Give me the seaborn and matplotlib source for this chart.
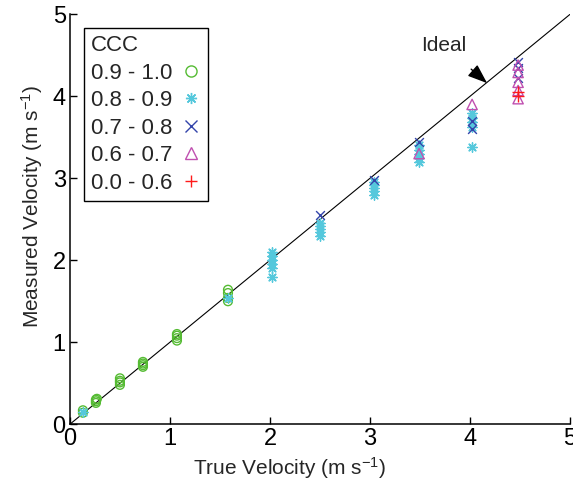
import matplotlib
matplotlib.use("Agg")
import matplotlib.pyplot as plt
from matplotlib.lines import Line2D
import seaborn as sns
import pandas as pd

# ---- data ----
groups = ["0.9 - 1.0", "0.8 - 0.9", "0.7 - 0.8", "0.6 - 0.7", "0.0 - 0.6"]

g1_x = [0.13, 0.13, 0.26, 0.26, 0.26, 0.27, 0.50, 0.50, 0.50, 0.50, 0.73, 0.73, 0.73, 0.73,
        1.07, 1.07, 1.07, 1.07, 1.58, 1.58, 1.58, 1.58]
g1_y = [0.14, 0.17, 0.26, 0.28, 0.30, 0.31, 0.48, 0.51, 0.53, 0.56, 0.70, 0.72, 0.74, 0.76,
        1.02, 1.05, 1.08, 1.10, 1.50, 1.54, 1.60, 1.64]

g2_x = [0.13, 1.58, 2.02, 2.02, 2.02, 2.02, 2.02, 2.02, 2.50, 2.50, 2.50, 2.50, 2.50,
        3.04, 3.04, 3.04, 3.04, 3.04, 3.49, 3.49, 3.49, 3.49, 3.49, 4.02, 4.02, 4.02, 4.02, 4.02]
g2_y = [0.15, 1.54, 1.80, 1.90, 1.95, 2.00, 2.05, 2.10, 2.30, 2.34, 2.38, 2.42, 2.45,
        2.80, 2.84, 2.88, 2.92, 2.96, 3.20, 3.25, 3.30, 3.35, 3.40, 3.38, 3.62, 3.68, 3.74, 3.80]

g3_x = [2.50, 3.04, 3.49, 4.02, 4.02, 4.48, 4.48, 4.48]
g3_y = [2.55, 2.98, 3.44, 3.60, 3.70, 4.22, 4.34, 4.42]

g4_x = [3.49, 4.02, 4.48, 4.48, 4.48, 4.48, 4.48]
g4_y = [3.30, 3.90, 3.97, 4.07, 4.17, 4.29, 4.38]

g5_x = [4.48, 4.48]
g5_y = [4.00, 4.05]

ideal_x = [0, 5]
ideal_y = [0, 5]
ticks = [0, 1, 2, 3, 4, 5]

colors = ["#55bb33", "#55c8dc", "#3344aa", "#c050b0", "#ff1a1a"]
markers = ["o", (8, 2, 0), "x", "^", "+"]
sizes = [40, 45, 40, 55, 65]
filled_none = [True, False, False, True, False]

# ---- plot ----
sns.set_theme(style="ticks")
plt.rcParams["font.family"] = ["Liberation Sans", "DejaVu Sans"]
plt.rcParams["mathtext.default"] = "regular"

fig = plt.figure(figsize=(5.73, 4.91), dpi=100)
ax = fig.add_axes([0.122, 0.136, 0.873, 0.835])

sns.lineplot(x=ideal_x, y=ideal_y, ax=ax, color="black", linewidth=0.8, zorder=1)

data = [(g1_x, g1_y), (g2_x, g2_y), (g3_x, g3_y), (g4_x, g4_y), (g5_x, g5_y)]
for (xs, ys), lab, c, m, s, op in zip(data, groups, colors, markers, sizes, filled_none):
    df = pd.DataFrame({"x": xs, "y": ys})
    if op:
        sns.scatterplot(data=df, x="x", y="y", ax=ax, marker=m, s=s,
                        facecolors="none", edgecolor=c, linewidth=1.0, zorder=3)
        coll = ax.collections[-1]
        coll.set_facecolor("none")
        coll.set_edgecolor(c)
    else:
        sns.scatterplot(data=df, x="x", y="y", ax=ax, marker=m, s=s,
                        color=c, linewidth=1.0, zorder=3)
        coll = ax.collections[-1]
        coll.set_edgecolor(c)

ax.set_xlim(0, 5)
ax.set_ylim(0, 5)
ax.set_xticks(ticks)
ax.set_yticks(ticks)
ax.tick_params(direction="in", length=5, width=1, labelsize=17, pad=3, colors="black")
for sp in ["top", "right"]:
    ax.spines[sp].set_visible(False)
for sp in ["left", "bottom"]:
    ax.spines[sp].set_color("black")
    ax.spines[sp].set_linewidth(1.1)

ax.set_xlabel("True Velocity (m s$^{-1}$)", fontsize=15)
ax.xaxis.set_label_coords(0.44, -0.075)
ax.set_ylabel("Measured Velocity (m s$^{-1}$)", fontsize=15)
ax.yaxis.set_label_coords(-0.05, 0.53)

ax.annotate("Ideal", xy=(4.17, 4.16), xytext=(3.74, 4.62), fontsize=15,
            ha="center", va="center",
            arrowprops=dict(arrowstyle="-|>,head_length=0.8,head_width=0.3",
                            color="black", lw=1, shrinkA=12, shrinkB=0))

handles = []
for lab, c, m, op in zip(groups, colors, markers, filled_none):
    handles.append(Line2D([], [], linestyle="none", marker=m, markersize=8,
                          markerfacecolor="none" if op else c, markeredgecolor=c,
                          markeredgewidth=1.0))
leg = ax.legend(handles, groups, title="CCC", loc="upper left",
                bbox_to_anchor=(0.028, 0.966), markerfirst=False, alignment="left",
                fontsize=16, title_fontsize=16, frameon=True, fancybox=False,
                framealpha=1, edgecolor="black", borderaxespad=0,
                labelspacing=0.29, handletextpad=0.4, handlelength=0.9,
                borderpad=0.32)
leg.get_frame().set_linewidth(1)

fig.savefig("out.png", dpi=100)
